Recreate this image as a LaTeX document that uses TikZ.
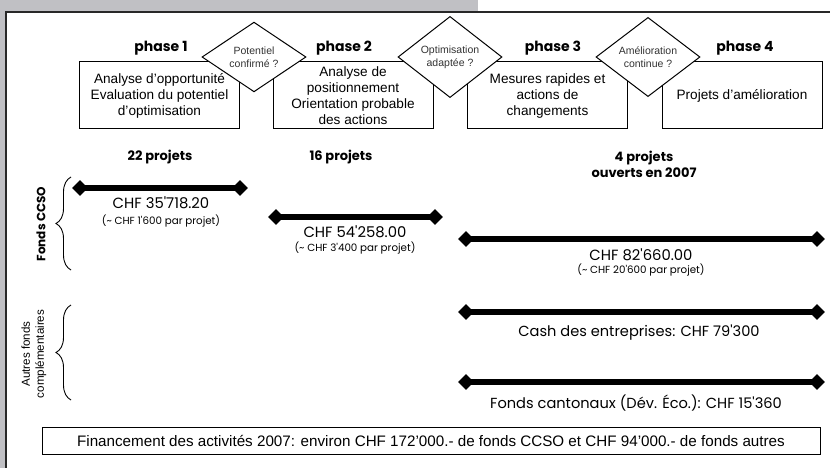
\documentclass[tikz,border=0pt]{standalone}
\usepackage{fontspec}
\setmainfont{Liberation Sans}
\newfontfamily\gothic{Poppins}
\usetikzlibrary{shapes.geometric,decorations.pathreplacing}
\definecolor{bggray}{RGB}{192,192,196}
\definecolor{framecol}{RGB}{40,40,40}
\begin{document}
\begin{tikzpicture}[x=1pt,y=-1pt,
  phasebox/.style={draw,line width=1pt,minimum width=160pt,minimum height=67pt,inner sep=0pt,align=center,font=\fontsize{13.6}{16}\selectfont},
  decision/.style={draw,line width=1pt,fill=white,shape=diamond,minimum width=104pt,minimum height=60pt,inner sep=0pt,align=center,font=\fontsize{10.5}{13}\selectfont,text=black!80},
  phaselabel/.style={font=\gothic\bfseries\fontsize{14}{16}\selectfont},
  countlabel/.style={font=\gothic\bfseries\fontsize{13}{15.5}\selectfont,align=center},
  endtip/.style={shape=diamond,fill=black,minimum width=16pt,minimum height=16pt,inner sep=0pt},
  bar/.style={line width=6pt},
  amount/.style={font=\gothic\fontsize{14.8}{16}\selectfont},
  perproj/.style={font=\gothic\fontsize{10.3}{12}\selectfont},
  fundtext/.style={font=\gothic\fontsize{14.6}{16}\selectfont},
  curly/.style={decorate,decoration={brace,amplitude=15pt},line width=0.9pt},
]
\useasboundingbox (0,0) rectangle (830,468);
% background
\fill[bggray] (0,0) rectangle (830,468);
\fill[white] (6,12) rectangle (830,468);
\fill[white] (478,0) rectangle (830,12);
\draw[framecol,line width=2.5pt] (6,468) -- (6,12) -- (830,12);

% phase boxes
\node[phasebox] (b1) at (159.5,95.5) {Analyse d’opportunité\\Evaluation du potentiel\\d’optimisation};
\node[phasebox] (b2) at (353,95.5) {Analyse de\\positionnement\\Orientation probable\\des actions};
\node[phasebox] (b3) at (547.5,95.5) {Mesures rapides et\\actions de\\changements};
\node[phasebox] (b4) at (742,95.5) {Projets d’amélioration};

% decisions
\node[decision] (d1) at (254,57) {Potentiel\\confirmé ?};
\node[decision] (d2) at (450,57) {Optimisation\\adaptée ?};
\node[decision] (d3) at (648,57) {Amélioration\\continue ?};

% phase labels
\node[phaselabel] (p1) at (161,48) {phase 1};
\node[phaselabel] (p2) at (344,48) {phase 2};
\node[phaselabel] (p3) at (553,48) {phase 3};
\node[phaselabel] (p4) at (745,48) {phase 4};

% counts
\node[countlabel] (c1) at (160,157) {22 projets};
\node[countlabel] (c2) at (341,157) {16 projets};
\node[countlabel] (c3) at (644,164.5) {4 projets\\ouverts en 2007};

% bars
\node[endtip] (l1a) at (80,188) {};
\node[endtip] (l1b) at (240,188) {};
\draw[bar] (l1a.center) -- (l1b.center);
\node[amount] (a1) at (161,203) {CHF 35'718.20};
\node[perproj] (q1) at (161,221) {(\textasciitilde{} CHF 1'600 par projet)};

\node[endtip] (l2a) at (276,217) {};
\node[endtip] (l2b) at (435,217) {};
\draw[bar] (l2a.center) -- (l2b.center);
\node[amount] (a2) at (355,232) {CHF 54'258.00};
\node[perproj] (q2) at (355,248) {(\textasciitilde{} CHF 3'400 par projet)};

\node[endtip] (l3a) at (466,239) {};
\node[endtip] (l3b) at (817,239) {};
\draw[bar] (l3a.center) -- (l3b.center);
\node[amount] (a3) at (641,255) {CHF 82'660.00};
\node[perproj] (q3) at (641,270) {(\textasciitilde{} CHF 20'600 par projet)};

\node[endtip] (l4a) at (466,312) {};
\node[endtip] (l4b) at (817,312) {};
\draw[bar] (l4a.center) -- (l4b.center);
\node[fundtext] (f4) at (639,333) {Cash des entreprises: CHF 79'300};

\node[endtip] (l5a) at (466,382) {};
\node[endtip] (l5b) at (817,382) {};
\draw[bar] (l5a.center) -- (l5b.center);
\node[fundtext] (f5) at (636,403) {Fonds cantonaux (Dév. Éco.): CHF 15'360};

% braces
\coordinate (br1t) at (71,177);
\coordinate (br1b) at (71,270);
\draw[curly] (br1b) -- (br1t);
\coordinate (br2t) at (71,305);
\coordinate (br2b) at (71,400);
\draw[curly] (br2b) -- (br2t);
\node[rotate=90,font=\gothic\bfseries\fontsize{12}{14}\selectfont] (g1) at (41,224) {Fonds CCSO};
\node[rotate=90,align=center,font=\fontsize{11.6}{14}\selectfont] (g2) at (34,354) {Autres fonds\\complémentaires};

% bottom summary
\node[draw,line width=1pt,minimum width=778pt,minimum height=27pt,inner sep=0pt,font=\fontsize{15.2}{17}\selectfont] (sum) at (431,440.5) {Financement des activités 2007: environ CHF 172'000.- de fonds CCSO et CHF 94'000.- de fonds autres};
\end{tikzpicture}
\end{document}
